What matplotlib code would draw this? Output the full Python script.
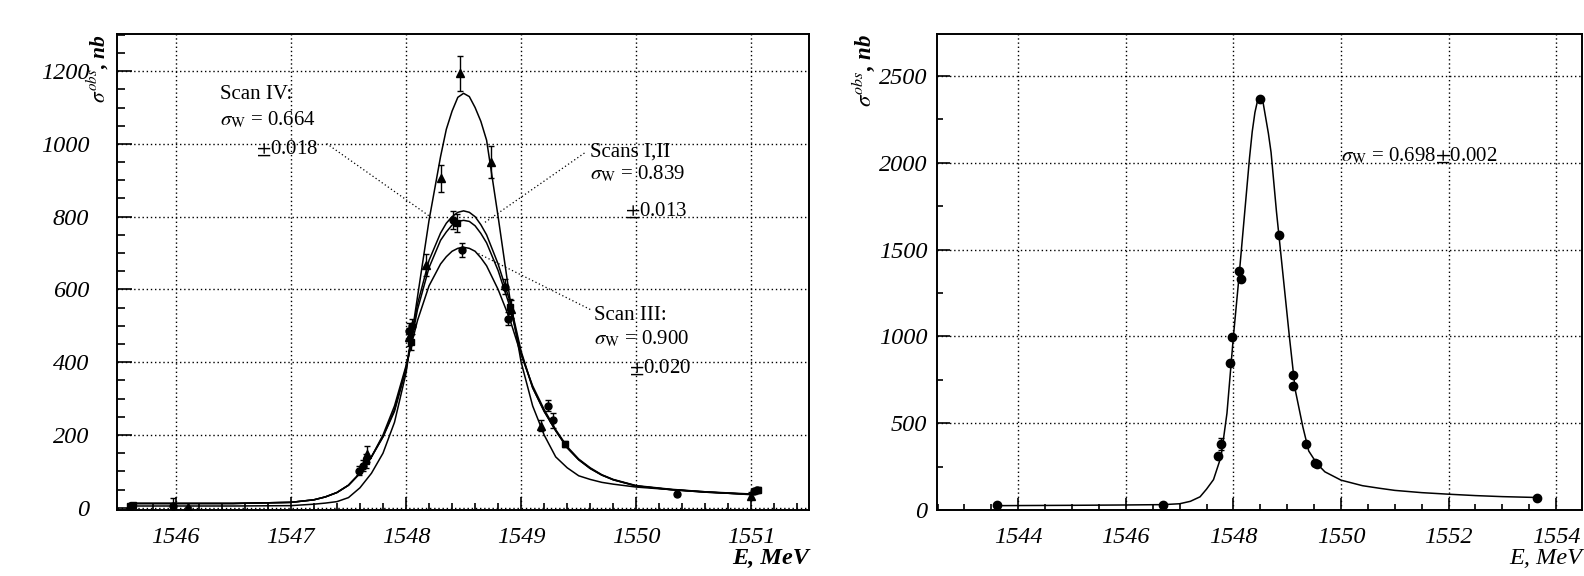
import matplotlib
matplotlib.use("Agg")
import matplotlib.pyplot as plt
from matplotlib.ticker import MultipleLocator

plt.rcParams['font.family'] = ['Liberation Serif', 'DejaVu Serif']
plt.rcParams['mathtext.fontset'] = 'stix'

# ---- left panel: fitted curves ----
fit_x = [1545.6, 1546.5, 1547.0, 1547.2, 1547.3, 1547.4, 1547.5, 1547.6, 1547.7,
         1547.8, 1547.9, 1548.0, 1548.1, 1548.2, 1548.3, 1548.35, 1548.4, 1548.45,
         1548.5, 1548.55, 1548.6, 1548.65, 1548.7, 1548.8, 1548.9, 1549.0, 1549.1,
         1549.2, 1549.3, 1549.4, 1549.5, 1549.6, 1549.7, 1549.8, 1550.0, 1550.3,
         1550.6, 1551.0]
fit_scan4 = [5, 5, 6, 10, 13, 17, 28, 55, 95, 150, 235, 370, 580, 790, 965, 1040,
             1090, 1128, 1139, 1130, 1100, 1062, 1010, 800, 580, 400, 280, 200, 140,
             110, 88, 78, 70, 65, 57, 50, 44, 36]
fit_scan1 = [12, 12, 15, 22, 30, 42, 62, 95, 140, 195, 270, 385, 560, 680, 755, 782,
             800, 812, 816, 812, 800, 778, 750, 670, 570, 430, 330, 265, 212, 165,
             132, 108, 90, 77, 60, 50, 43, 37]
fit_scan2 = [12, 12, 15, 22, 30, 42, 62, 95, 140, 195, 265, 380, 545, 660, 735, 758,
             777, 787, 790, 787, 775, 754, 728, 652, 555, 425, 330, 265, 212, 165,
             132, 108, 90, 77, 60, 50, 43, 37]
fit_scan3 = [12, 12, 15, 22, 30, 42, 62, 95, 140, 200, 280, 390, 515, 610, 670, 690,
             705, 713, 716, 713, 705, 687, 665, 600, 520, 420, 335, 270, 215, 168,
             134, 110, 91, 78, 61, 51, 44, 38]

# ---- left panel: measured points ----
s4_x = [1546.11, 1547.66, 1548.03, 1548.17, 1548.30, 1548.47, 1548.74, 1548.91, 1549.17, 1551.00]
s4_y = [3, 148, 470, 667, 905, 1194, 950, 547, 226, 33]
s4_e = [0, 22, 25, 30, 37, 48, 43, 25, 15, 10]

s3_x = [1545.98, 1547.59, 1548.05, 1548.49, 1548.86, 1549.23, 1550.35, 1551.05]
s3_y = [5, 102, 499, 709, 608, 281, 38, 48]
s3_e = [22, 12, 20, 20, 20, 15, 5, 6]

s1_x = [1547.63, 1548.03, 1548.41, 1548.89, 1549.28, 1551.02]
s1_y = [116, 487, 790, 519, 240, 45]
s1_e = [15, 20, 25, 18, 20, 6]

s2_x = [1545.60, 1545.63, 1547.65, 1548.04, 1548.44, 1548.90, 1549.38, 1551.06]
s2_y = [4, 8, 129, 455, 783, 553, 175, 50]
s2_e = [4, 5, 20, 20, 25, 20, 8, 6]

# ---- right panel ----
r_fit_x = [1543.6, 1545.0, 1546.0, 1546.7, 1547.0, 1547.2, 1547.38, 1547.5, 1547.63,
           1547.77, 1547.88, 1548.0, 1548.1, 1548.2, 1548.3, 1548.35, 1548.4, 1548.45,
           1548.5, 1548.55, 1548.6, 1548.65, 1548.7, 1548.8, 1548.9, 1549.04, 1549.15,
           1549.29, 1549.4, 1549.55, 1549.7, 1550.0, 1550.4, 1550.72, 1551.0, 1551.5,
           1552.0, 1552.5, 1553.0, 1553.65]
r_fit_y = [25, 27, 29, 31, 36, 50, 76, 120, 175, 307, 557, 1000, 1330, 1680, 2030,
           2180, 2290, 2360, 2385, 2350, 2260, 2170, 2060, 1720, 1420, 1000, 691, 480,
           340, 268, 220, 172, 140, 125, 113, 100, 91, 83, 77, 72]
r_x = [1543.61, 1546.69, 1547.72, 1547.77, 1547.94, 1547.97, 1548.11, 1548.14,
       1548.50, 1548.84, 1549.10, 1549.11, 1549.35, 1549.52, 1549.56, 1553.64]
r_y = [27, 31, 310, 378, 845, 998, 1379, 1332, 2365, 1586, 776, 716, 378, 269, 265, 72]
r_e = [0, 0, 0, 35, 0, 0, 0, 0, 0, 0, 0, 0, 0, 0, 0, 0]

fig = plt.figure(figsize=(15.84, 5.76), dpi=100)
ax1 = fig.add_axes([117/1584, 1 - 510/576, 692/1584, 476/576])
ax2 = fig.add_axes([937/1584, 1 - 510/576, 645/1584, 476/576])

grid_style = dict(color='black', linestyle=(0, (1, 2)), linewidth=1.0)


def style_axes(ax, ymaj_len, xmaj_len, ypad=7):
    for sp in ax.spines.values():
        sp.set_linewidth(1.4)
    ax.grid(True, which='major', **grid_style)
    ax.set_axisbelow(True)
    ax.tick_params(which='both', direction='in', top=False, right=False,
                   labelsize=17.5, width=1.2)
    ax.tick_params(axis='y', which='major', length=ymaj_len, pad=ypad)
    ax.tick_params(axis='y', which='minor', length=ymaj_len / 2)
    ax.tick_params(axis='x', which='major', length=xmaj_len, pad=12)
    ax.tick_params(axis='x', which='minor', length=xmaj_len / 2)
    for lab in ax.get_xticklabels() + ax.get_yticklabels():
        lab.set_fontstyle('italic')


# left
for fy in [fit_scan4, fit_scan1, fit_scan2, fit_scan3]:
    ax1.plot(fit_x, fy, color='black', linewidth=1.1, zorder=3)
ebar = dict(color='black', ecolor='black', elinewidth=1.0, capsize=2.5,
            capthick=1.0, linestyle='none', zorder=4)
ax1.errorbar(s4_x, s4_y, yerr=s4_e, marker='^', markersize=5.5, **ebar)
ax1.errorbar(s3_x, s3_y, yerr=s3_e, marker='o', markersize=5, **ebar)
ax1.errorbar(s1_x, s1_y, yerr=s1_e, marker='o', markersize=5, **ebar)
ax1.errorbar(s2_x, s2_y, yerr=s2_e, marker='s', markersize=5, **ebar)

ax1.set_xlim(1545.49, 1551.5)
ax1.set_ylim(-6, 1302)
ax1.xaxis.set_major_locator(MultipleLocator(1))
ax1.xaxis.set_minor_locator(MultipleLocator(0.2))
ax1.yaxis.set_major_locator(MultipleLocator(200))
ax1.yaxis.set_minor_locator(MultipleLocator(50))
style_axes(ax1, 10.8, 9.4, ypad=20)

lead = dict(color='black', linestyle=(0, (1, 2)), linewidth=0.9, zorder=2)
ax1.plot([1547.31, 1548.21], [1001, 800], **lead)
ax1.plot([1549.55, 1548.67], [975, 781], **lead)
ax1.plot([1549.60, 1548.62], [545, 700], **lead)

tfs = 15
ax1.text(1546.385, 1123, 'Scan IV:', fontsize=tfs)
ax1.text(1546.385, 1051, r'$\sigma_{\rm W}$ = 0.664', fontsize=tfs)
ax1.text(1546.70, 973, r'$\pm$0.018', fontsize=tfs)
ax1.text(1549.60, 964, 'Scans I,II', fontsize=tfs)
ax1.text(1549.60, 902, r'$\sigma_{\rm W}$ = 0.839', fontsize=tfs)
ax1.text(1549.90, 804, r'$\pm$0.013', fontsize=tfs)
ax1.text(1549.63, 515, 'Scan III:', fontsize=tfs)
ax1.text(1549.63, 450, r'$\sigma_{\rm W}$ = 0.900', fontsize=tfs)
ax1.text(1549.94, 372, r'$\pm$0.020', fontsize=tfs)

ax1.text(-0.008, 1.0, r'$\sigma^{obs}$, nb', transform=ax1.transAxes,
         rotation=90, ha='right', va='top', fontsize=15.5,
         fontweight='bold', fontstyle='italic')
ax1.text(1.0, -0.101, 'E, MeV', transform=ax1.transAxes, ha='right', va='center',
         fontsize=17.5, fontweight='bold', fontstyle='italic')

# right
ax2.plot(r_fit_x, r_fit_y, color='black', linewidth=1.1, zorder=3)
ax2.errorbar(r_x, r_y, yerr=r_e, marker='o', markersize=6, **ebar)
ax2.set_xlim(1542.49, 1554.48)
ax2.set_ylim(0, 2742)
ax2.xaxis.set_major_locator(MultipleLocator(2))
ax2.xaxis.set_minor_locator(MultipleLocator(0.5))
ax2.yaxis.set_major_locator(MultipleLocator(500))
ax2.yaxis.set_minor_locator(MultipleLocator(250))
style_axes(ax2, 9, 9)
ax2.text(1550.0, 2006, r'$\sigma_{\rm W}$ = 0.698$\pm$0.002', fontsize=tfs)

ax2.text(-0.093, 1.0, r'$\sigma^{obs}$, nb', transform=ax2.transAxes,
         rotation=90, ha='right', va='top', fontsize=16.5,
         fontweight='bold', fontstyle='italic')
ax2.text(1.0, -0.101, 'E, MeV', transform=ax2.transAxes, ha='right', va='center',
         fontsize=17.5, fontstyle='italic')

fig.savefig('out.png', dpi=100)
